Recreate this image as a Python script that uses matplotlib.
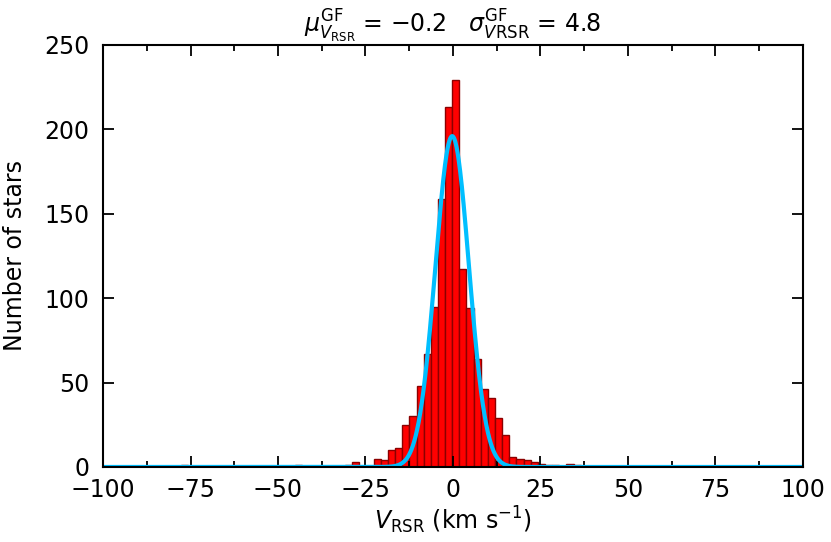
import numpy as np
import matplotlib
matplotlib.use("Agg")
import matplotlib.pyplot as plt
from matplotlib.ticker import MultipleLocator

# ---- data ----
bin_width = 2.04
bin_origin = -0.2          # left edge of bin index 0
bin_index = [-38, -22, -15, -14, -11, -10, -9, -8, -7, -6, -5, -4, -3, -2, -1,
             0, 1, 2, 3, 4, 5, 6, 7, 8, 9, 10, 11, 12, 13, 14, 16, 17]
counts = [1, 1, 1, 3, 5, 4, 10, 11, 25, 30, 48, 67, 95, 159, 213,
          229, 117, 94, 64, 46, 41, 29, 19, 6, 5, 4, 3, 2, 1, 1, 2, 1]
gf_mu = -0.2
gf_sigma = 4.8
gf_amp = 196.0
xticks = [-100, -75, -50, -25, 0, 25, 50, 75, 100]
yticks = [0, 50, 100, 150, 200, 250]

plt.rcParams['font.family'] = ['DejaVu Sans']
plt.rcParams['font.size'] = 17
plt.rcParams['mathtext.fontset'] = 'dejavusans'

fig = plt.figure(figsize=(8.31, 5.42), dpi=100)
ax = fig.add_axes([0.124, 0.1384, 0.842, 0.7786])

idx = np.array(bin_index)
left_edges = bin_origin + bin_width * idx
edges = bin_origin + bin_width * np.arange(idx.min(), idx.max() + 2)
centers = left_edges + bin_width / 2
ax.hist(centers, bins=edges, weights=counts, color='red',
        edgecolor='#8B0000', linewidth=1.0)

xg = np.linspace(-100, 100, 2000)
ax.plot(xg, gf_amp * np.exp(-0.5 * ((xg - gf_mu) / gf_sigma) ** 2),
        color='#00BFFF', lw=3)

ax.set_xlim(-100, 100)
ax.set_ylim(0, 250)
ax.set_xticks(xticks)
ax.set_yticks(yticks)
ax.xaxis.set_minor_locator(MultipleLocator(12.5))
ax.tick_params(which='both', direction='in', top=True, right=True, width=1.3)
ax.tick_params(which='major', length=8, labelsize=17)
ax.tick_params(axis='x', which='major', pad=8)
ax.tick_params(axis='y', which='major', pad=10)
ax.tick_params(which='minor', length=4.5)
for s in ax.spines.values():
    s.set_linewidth(1.5)

ax.set_xlabel(r'$V_{\rm RSR}$ (km s$^{-1}$)', fontsize=17, labelpad=2)
ax.set_ylabel('Number of stars', fontsize=17, labelpad=12)
ax.set_title(r'$\mu^{\rm GF}_{V_{\rm RSR}}$ = $-$0.2   $\sigma^{\rm GF}_{V{\rm RSR}}$ = 4.8',
             fontsize=17, pad=8)

fig.savefig('out.png', dpi=100)
